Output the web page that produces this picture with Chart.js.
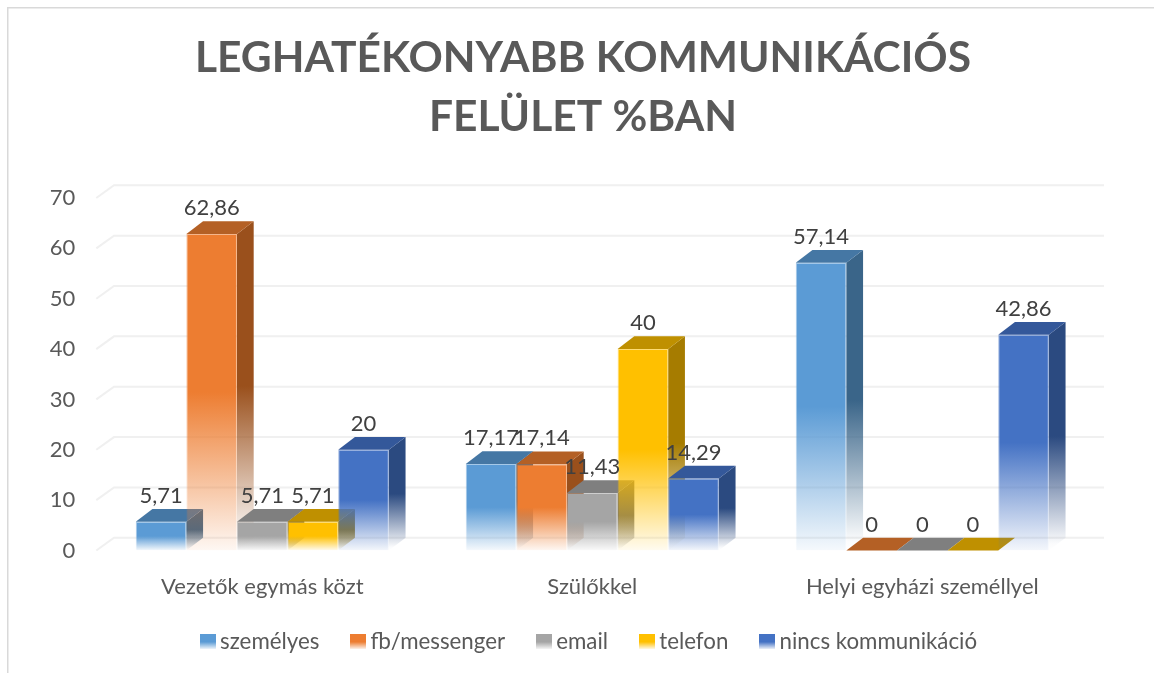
<!DOCTYPE html>
<html><head><meta charset="utf-8">
<style>html,body{margin:0;padding:0;background:#fff;overflow:hidden}#w{width:1154px;height:673px}canvas{display:block}</style>
<script src="https://cdn.jsdelivr.net/npm/chart.js@4"></script></head>
<body><div id="w"><canvas id="c" width="1154" height="673"></canvas></div>
<script>
const categories = ['Vezetők egymás közt', 'Szülőkkel', 'Helyi egyházi személlyel'];
const seriesNames = ['személyes', 'fb/messenger', 'email', 'telefon', 'nincs kommunikáció'];
const szemelyes = [5.71, 17.17, 57.14];
const messenger = [62.86, 17.14, 0];
const email = [5.71, 11.43, 0];
const telefon = [5.71, 40, 0];
const nincs = [20, 14.29, 42.86];
const yTicks = [0, 10, 20, 30, 40, 50, 60, 70];
const titleLines = ['LEGHATÉKONYABB KOMMUNIKÁCIÓS', 'FELÜLET %BAN'];
const values = [szemelyes, messenger, email, telefon, nincs];
const frontRGB = [[91,155,213],[237,125,49],[165,165,165],[255,192,0],[68,114,196]];
const topCol = ['#4577a4','#b46025','#7f7f7f','#bf9000','#34589a'];
const sideRGB = [[58,101,137],[154,80,28],[110,110,110],[166,124,0],[43,74,128]];
const DX = 16.7, DY = 12.7;
const FONT = 'Lato';
const LEGEND_DX = 9, LEGEND_DY = -10;
const rgba = (c,a)=>`rgba(${c[0]},${c[1]},${c[2]},${a})`;

function swatch(c){
  const cv=document.createElement('canvas'); cv.width=16; cv.height=15;
  const x=cv.getContext('2d'), g=x.createLinearGradient(0,0,0,15);
  g.addColorStop(0,rgba(c,1)); g.addColorStop(.5,rgba(c,1)); g.addColorStop(1,rgba(c,.06));
  x.fillStyle=g; x.fillRect(0,0,16,15); return cv;
}
const swatches = frontRGB.map(swatch);

function frontFill(ctx,i,alpha){
  if(ctx.type!=='data'||!ctx.parsed) return rgba(frontRGB[i],alpha);
  const y=ctx.chart.scales.y, t=y.getPixelForValue(ctx.parsed.y), b=y.getPixelForValue(0);
  if(b-t<1) return rgba(frontRGB[i],alpha);
  const g=ctx.chart.ctx.createLinearGradient(0,t,0,b);
  g.addColorStop(0,rgba(frontRGB[i],alpha)); g.addColorStop(.5,rgba(frontRGB[i],alpha)); g.addColorStop(1,rgba(frontRGB[i],alpha*.06));
  return g;
}

const decor = {
  id:'decor',
  afterLayout(ch){
    ch.legend.left+=LEGEND_DX; ch.legend.right+=LEGEND_DX; ch.legend.top+=LEGEND_DY; ch.legend.bottom+=LEGEND_DY;
    ch.scales.y.left=0;
  },
  beforeDraw(ch){
    const c=ch.ctx; c.save(); c.fillStyle='#fff'; c.fillRect(0,0,ch.width,ch.height);
    c.fillStyle='#d9d9d9'; c.fillRect(7,7,ch.width-7,1.5); c.fillRect(7,7,1.5,ch.height-7); c.restore();
  },
  beforeDatasetsDraw(ch){
    const c=ch.ctx,y=ch.scales.y,a=ch.chartArea; c.save(); c.strokeStyle='#f0f0f0'; c.lineWidth=2;
    yTicks.forEach(v=>{const p=y.getPixelForValue(v); c.beginPath(); c.moveTo(a.left-1,p); c.lineTo(a.left+DX,p-DY); c.lineTo(a.right+DX,p-DY); c.stroke();});
    c.restore();
    values.forEach((v,i)=>ch._drawDataset(ch.getDatasetMeta(i)));
    c.save(); c.font=`22px ${FONT}`; c.fillStyle='#404040'; c.textAlign='center'; c.textBaseline='middle';
    values.forEach((vals,i)=>{ ch.getDatasetMeta(i).data.forEach((b,j)=>{ c.fillText(String(vals[j]).replace('.',','), b.x, b.y-26); }); });
    c.restore();
    return false;
  },
  beforeDatasetDraw(ch,args){
    const c=ch.ctx,i=args.index; c.save();
    ch.getDatasetMeta(i).data.forEach(b=>{
      const l=b.x-b.width/2,r=b.x+b.width/2,t=b.y,bt=b.base;
      if(bt-t>0.5){
        const g=c.createLinearGradient(0,t-DY,0,bt);
        g.addColorStop(0,rgba(sideRGB[i],1)); g.addColorStop(.5,rgba(sideRGB[i],1)); g.addColorStop(.97,rgba(sideRGB[i],.02)); g.addColorStop(1,rgba(sideRGB[i],0));
        c.fillStyle=g; c.beginPath(); c.moveTo(r,t); c.lineTo(r+DX,t-DY); c.lineTo(r+DX,bt-DY); c.lineTo(r,bt); c.closePath(); c.fill();
      }
      c.fillStyle=topCol[i]; c.beginPath(); c.moveTo(l,t); c.lineTo(l+DX,t-DY); c.lineTo(r+DX,t-DY); c.lineTo(r,t); c.closePath(); c.fill();
    });
    c.restore();
  }
};

new Chart(document.getElementById('c'),{
  type:'bar',
  data:{labels:categories,datasets:values.map((v,i)=>({
    label:seriesNames[i], data:v,
    categoryPercentage:.767, barPercentage:1,
    borderWidth:v.map(x=>x>0?1:0),
    borderColor(ctx){return frontFill(ctx,i,.55);},
    backgroundColor(ctx){return frontFill(ctx,i,1);}
  }))},
  plugins:[decor],
  options:{
    responsive:false, animation:false,
    layout:{padding:{left:78.7,right:66.7,top:0,bottom:0}},
    plugins:{
      tooltip:{enabled:false},
      title:{display:true,text:titleLines,color:'#595959',align:'center',
        font:{family:FONT,size:42.5,weight:'bold',lineHeight:59/42.5},padding:{top:29,bottom:51}},
      legend:{display:true,position:'bottom',align:'center',
        labels:{color:'#595959',font:{family:FONT,size:22.3},padding:38,boxHeight:15,usePointStyle:true,pointStyleWidth:2,
          generateLabels(){return seriesNames.map((n,i)=>({text:n,pointStyle:swatches[i],fontColor:'#595959',datasetIndex:i,hidden:false,lineWidth:0,strokeStyle:'transparent',fillStyle:'transparent'}));}}}
    },
    scales:{
      x:{grid:{display:false},border:{display:false},
        ticks:{color:'#595959',font:{family:FONT,size:22},padding:15,maxRotation:0},
        afterFit(s){s.height=52.2;}},
      y:{min:0,max:70,grid:{display:false,drawTicks:false},border:{display:false},
        afterBuildTicks(s){s.ticks=yTicks.map(v=>({value:v}));},
        ticks:{color:'#595959',font:{family:FONT,size:22},padding:22},
        afterFit(s){s.width=18.6;}}
    }
  }
});
</script></body></html>
